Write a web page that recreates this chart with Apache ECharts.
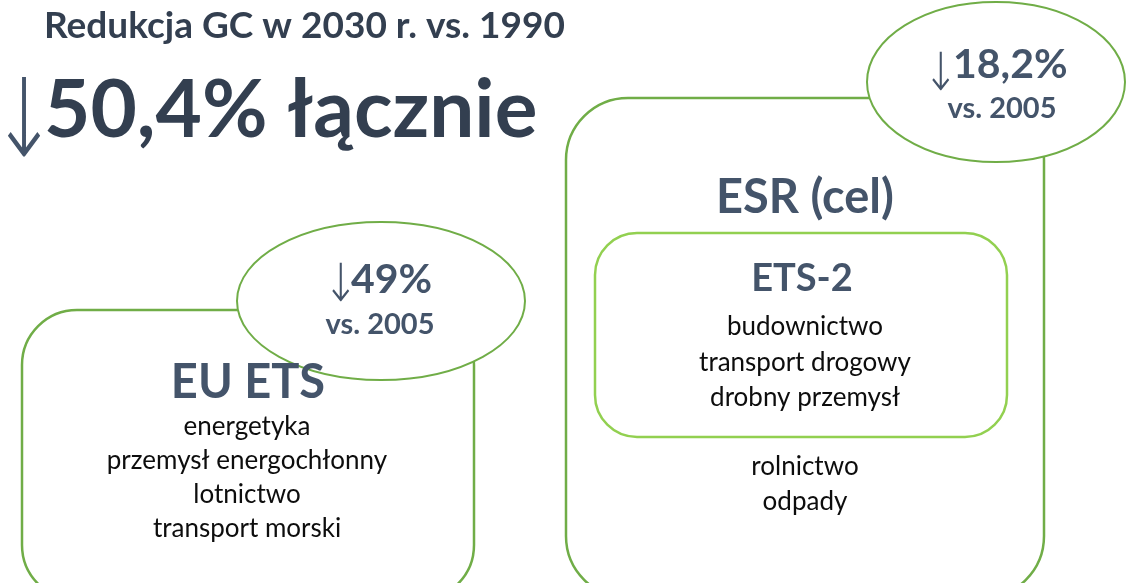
<!DOCTYPE html>
<html>
<head>
<meta charset="utf-8">
<script src="https://cdn.jsdelivr.net/npm/echarts@6/dist/echarts.min.js"></script>
<style>
  html, body { margin: 0; padding: 0; background: #fff; }
  #chart { width: 1126px; height: 583px; }
</style>
</head>
<body>
<div id="chart"></div>
<script>
// Texts of the diagram
var headline = 'Redukcja GC w 2030 r. vs. 1990';
var downArrow = '↓';
var totalCut = '50,4% łącznie';
var etsCut = ['49%', 'vs. 2005'];
var esrCut = ['18,2%', 'vs. 2005'];
var etsTitle = 'EU ETS';
var etsSectors = ['energetyka', 'przemysł energochłonny', 'lotnictwo', 'transport morski'];
var esrTitle = 'ESR (cel)';
var ets2Title = 'ETS-2';
var ets2Sectors = ['budownictwo', 'transport drogowy', 'drobny przemysł'];
var esrSectors = ['rolnictwo', 'odpady'];

var DARK = '#333f50', SLATE = '#44546a', GREEN = '#70ad47', LIGHT = '#92d050', INK = '#0d0d0d';
var FONT = 'Lato, "Noto Sans", sans-serif';
var ARROW_FONT = '"DejaVu Sans", sans-serif';

// y is the top of the em box; baseline sits about 0.8 * size below it
function txt(x, y, s, size, weight, color, align, family) {
  return {
    type: 'text', z: 10,
    style: {
      x: x, y: y, text: s, fill: color,
      font: weight + ' ' + size + 'px ' + (family || FONT),
      textAlign: align || 'center', textVerticalAlign: 'top'
    }
  };
}

// thin, tall arrow glyph centred on (cx, cy)
function arrow(cx, cy, size, stretch) {
  return {
    type: 'text', z: 10, x: cx, y: cy, scaleY: stretch,
    style: {
      x: 0, y: 0, text: downArrow, fill: SLATE,
      font: '200 ' + size + 'px ' + ARROW_FONT,
      textAlign: 'center', textVerticalAlign: 'middle'
    }
  };
}

function lines(x, y0, step, arr, size, color) {
  return arr.map(function (s, i) { return txt(x, y0 + i * step, s, size, 'normal', color); });
}

var chart = echarts.init(document.getElementById('chart'));
var els = [];

// boxes
els.push({ type: 'rect', z: 1, shape: { x: 22, y: 310, width: 452, height: 290, r: 55 },
  style: { fill: '#fff', stroke: GREEN, lineWidth: 2.5 } });
els.push({ type: 'rect', z: 1, shape: { x: 566, y: 98, width: 478, height: 500, r: 62 },
  style: { fill: '#fff', stroke: GREEN, lineWidth: 2.5 } });
els.push({ type: 'rect', z: 2, shape: { x: 595, y: 233, width: 412, height: 204, r: 42 },
  style: { fill: '#fff', stroke: LIGHT, lineWidth: 2.5 } });

// ellipses
els.push({ type: 'ellipse', z: 3, shape: { cx: 381, cy: 301, rx: 144, ry: 79 },
  style: { fill: '#fff', stroke: GREEN, lineWidth: 2 } });
els.push({ type: 'ellipse', z: 3, shape: { cx: 996, cy: 82, rx: 129, ry: 80 },
  style: { fill: '#fff', stroke: GREEN, lineWidth: 2 } });

// headline
els.push(txt(44, 8, headline, 37, 'bold', DARK, 'left'));
els.push(arrow(24, 128, 80, 1.36));
els.push(txt(44, 71, totalCut, 80, 'bold', DARK, 'left'));

// EU ETS badge
els.push(arrow(340.5, 287.5, 42, 1.25));
els.push(txt(351, 259, etsCut[0], 41, 'bold', SLATE, 'left'));
els.push(txt(380, 310, etsCut[1], 29, 'bold', SLATE));
// ESR badge
els.push(arrow(940.5, 76, 42, 1.25));
els.push(txt(953, 44, esrCut[0], 41, 'bold', SLATE, 'left'));
els.push(txt(1002, 94, esrCut[1], 29, 'bold', SLATE));

els.push(txt(248, 359, etsTitle, 47, 'bold', SLATE));
els = els.concat(lines(247, 414, 34, etsSectors, 26, INK));

els.push(txt(805, 174, esrTitle, 47, 'bold', SLATE));
els.push(txt(802, 260, ets2Title, 38, 'bold', SLATE));
els = els.concat(lines(805, 314, 35.5, ets2Sectors, 26, INK));
els = els.concat(lines(805, 454, 35, esrSectors, 26, INK));

chart.setOption({ backgroundColor: '#fff', graphic: { elements: els } });
</script>
</body>
</html>
